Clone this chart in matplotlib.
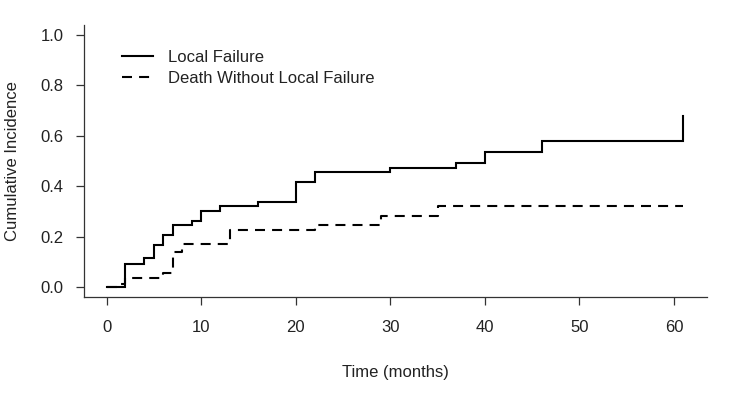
import matplotlib
matplotlib.use("Agg")
import matplotlib.pyplot as plt
from matplotlib.lines import Line2D

# Data (cumulative incidence step functions)
lf_times = [0, 2, 4, 5, 6, 7, 9, 10, 12, 16, 20, 22, 30, 37, 40, 46, 61]
lf_values = [0.0, 0.092, 0.115, 0.167, 0.207, 0.245, 0.264, 0.301, 0.322,
             0.339, 0.416, 0.455, 0.471, 0.492, 0.534, 0.580, 0.678]

dw_times = [0, 1.5, 2, 6, 7, 8, 13, 22, 29, 35, 61]
dw_values = [0.0, 0.012, 0.038, 0.055, 0.141, 0.171, 0.225, 0.247, 0.283,
             0.322, 0.322]

x_ticks = [0, 10, 20, 30, 40, 50, 60]
y_ticks = [0.0, 0.2, 0.4, 0.6, 0.8, 1.0]
labels = ["Local Failure", "Death Without Local Failure"]

plt.rcParams['font.family'] = ['Liberation Sans', 'DejaVu Sans']
txt = '#222222'
fs = 12

W, H = 750, 403
fig = plt.figure(figsize=(W / 100, H / 100), dpi=100)
left, right, top, bottom = 83.5, 706.5, 24.6, 297.4
ax = fig.add_axes([left / W, 1 - bottom / H, (right - left) / W, (bottom - top) / H])

ax.plot(lf_times, lf_values, drawstyle='steps-post', color='black', lw=1.5,
        solid_joinstyle='miter')
ax.plot(dw_times, dw_values, drawstyle='steps-post', color='black', lw=1.5,
        linestyle=(0, (4.8, 3.4)))

ax.set_xlim(-2.44, 63.44)
ax.set_ylim(-0.04, 1.04)
ax.set_xticks(x_ticks)
ax.set_xticklabels([str(v) for v in x_ticks])
ax.set_yticks(y_ticks)
ax.set_yticklabels([f"{v:.1f}" for v in y_ticks])

for s in ['top', 'right']:
    ax.spines[s].set_visible(False)
for s in ['left', 'bottom']:
    ax.spines[s].set_color('#333333')
    ax.spines[s].set_linewidth(0.9)

ax.tick_params(axis='both', direction='out', length=6, width=0.9,
               color='#333333', labelsize=fs, labelcolor=txt)
ax.tick_params(axis='y', pad=8.5)
ax.tick_params(axis='x', pad=10)

ax.set_xlabel("Time (months)", fontsize=fs, color=txt, va='center')
ax.xaxis.set_label_coords(0.5, -(372 - bottom) / (bottom - top))
ax.set_ylabel("Cumulative Incidence", fontsize=fs, color=txt, va='center')
ax.yaxis.set_label_coords((12.5 - left) / (right - left), 0.5)

handles = [Line2D([0], [0], color='black', lw=1.5),
           Line2D([0], [0], color='black', lw=1.5, linestyle=(0, (4.8, 3.4)))]
leg = ax.legend(handles, labels, loc='upper left',
                bbox_to_anchor=(121.7 / W, 1 - 50 / H), bbox_transform=fig.transFigure,
                frameon=False, fontsize=fs, handlelength=1.9, handletextpad=0.9,
                labelspacing=0.38, borderpad=0, borderaxespad=0)
for t in leg.get_texts():
    t.set_color(txt)

fig.savefig("out.png", dpi=100)
